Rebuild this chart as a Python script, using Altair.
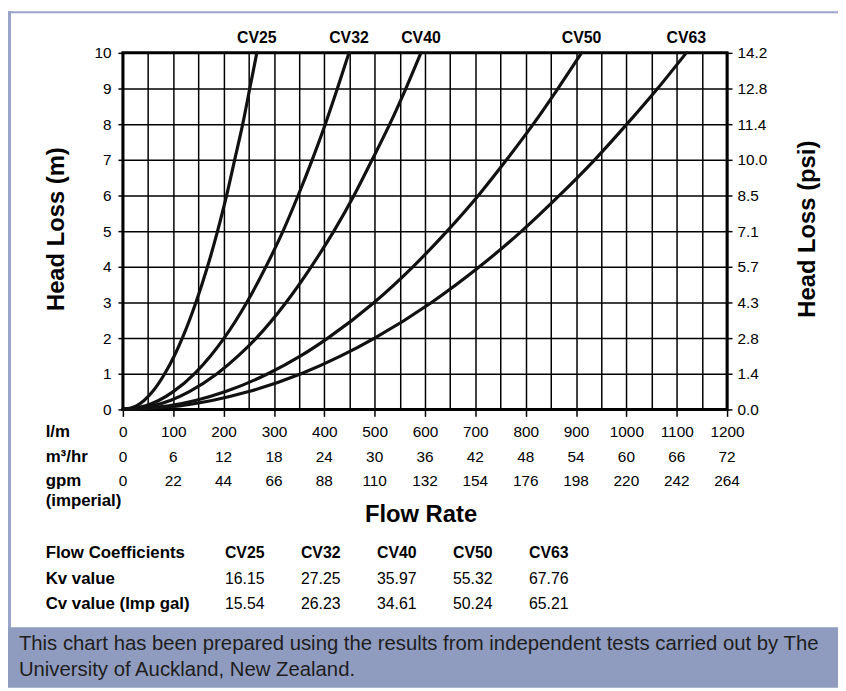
import altair as alt
import pandas as pd

# ---------------- data ----------------
series_names = ["CV25", "CV32", "CV40", "CV50", "CV63"]
head_m = [0, 0.1, 0.25, 0.5, 1, 1.5, 2, 3, 4, 5, 6, 7, 8, 9, 10]
flow_cv25 = [0, 27, 42, 59, 83, 102, 118, 145, 168, 188, 206, 222, 238, 252, 266]
flow_cv32 = [0, 45, 71, 100, 142, 174, 201, 246, 284, 318, 348, 376, 402, 426, 449]
flow_cv40 = [0, 59, 94, 132, 187, 229, 265, 324, 374, 419, 459, 495, 530, 562, 592]
flow_cv50 = [0, 91, 144, 204, 288, 353, 407, 499, 576, 644, 706, 762, 815, 864, 911]
flow_cv63 = [0, 112, 177, 250, 354, 433, 500, 613, 708, 792, 867, 937, 1001, 1062, 1119]

lpm_ticks = [0, 100, 200, 300, 400, 500, 600, 700, 800, 900, 1000, 1100, 1200]
m3hr_labels = [0, 6, 12, 18, 24, 30, 36, 42, 48, 54, 60, 66, 72]
gpm_labels = [0, 22, 44, 66, 88, 110, 132, 154, 176, 198, 220, 242, 264]
grid_lpm = [0, 50, 100, 150, 200, 250, 300, 350, 400, 450, 500, 550, 600,
            650, 700, 750, 800, 850, 900, 950, 1000, 1050, 1100, 1150, 1200]
head_ticks = [0, 1, 2, 3, 4, 5, 6, 7, 8, 9, 10]
psi_labels = ["0.0", "1.4", "2.8", "4.3", "5.7", "7.1", "8.5", "10.0", "11.4", "12.8", "14.2"]

table_rows = ["Flow Coefficients", "Kv value", "Cv value (Imp gal)"]
kv_values = [16.15, 27.25, 35.97, 55.32, 67.76]
cv_values = [15.54, 26.23, 34.61, 50.24, 65.21]

footnote = ["This chart has been prepared using the results from independent tests carried out by The",
            "University of Auckland, New Zealand."]

FONT = "Liberation Sans"
FRAME = "#9aa4c9"
BAND = "#8f9bbf"
TICK_FS = 15.5

# ---------------- tables ----------------
flows = [flow_cv25, flow_cv32, flow_cv40, flow_cv50, flow_cv63]
rows = []
for name, fl in zip(series_names, flows):
    for i, (q, h) in enumerate(zip(fl, head_m)):
        rows.append({"series": name, "Q": q, "H": h, "order": i})
curves_df = pd.DataFrame(rows)
ends_df = pd.DataFrame({"series": series_names, "Q": [f[-1] for f in flows], "H": [head_m[-1]] * 5})
xrows_df = pd.DataFrame({"lpm": lpm_ticks, "m3": m3hr_labels, "gpm": gpm_labels})

vals = []
for name, k, c in zip(series_names, kv_values, cv_values):
    vals.append({"col": name, "row": table_rows[1], "v": f"{k:.2f}"})
    vals.append({"col": name, "row": table_rows[2], "v": f"{c:.2f}"})
vals_df = pd.DataFrame(vals)
head_df = pd.DataFrame({"col": series_names, "row": [table_rows[0]] * 5})
rowlab_df = pd.DataFrame({"row": table_rows})
one = pd.DataFrame({"a": [0]})

xscale = alt.Scale(domain=[0, 1200], nice=False, zero=False)
yscale = alt.Scale(domain=[0, 10], nice=False)

psi_expr = "[" + ",".join(f"'{p}'" for p in psi_labels) + "][datum.value]"

# ---------------- plot layers ----------------
curves = alt.Chart(curves_df).mark_line(
    color="#111111", strokeWidth=3.2, interpolate="monotone", strokeCap="round"
).encode(
    x=alt.X("Q:Q", scale=xscale,
            axis=alt.Axis(orient="top", values=grid_lpm, grid=True, gridColor="black",
                          gridWidth=1.5, gridOpacity=1, labels=False, ticks=False,
                          domain=False, title=None)),
    y=alt.Y("H:Q", scale=yscale,
            axis=alt.Axis(orient="left", values=head_ticks, grid=True, gridColor="black",
                          gridWidth=1.5, gridOpacity=1, tickSize=5, tickWidth=1.5,
                          tickColor="black", labelPadding=7, labelFontSize=TICK_FS,
                          labelColor="black", labelFont=FONT, domain=False, title=None)),
    detail="series:N",
    order="order:Q",
)

axes2 = alt.Chart(curves_df).mark_point(opacity=0).encode(
    x=alt.X("Q:Q", scale=xscale,
            axis=alt.Axis(orient="bottom", values=lpm_ticks, grid=False, tickSize=7,
                          tickWidth=1.5, tickColor="black", labelPadding=8,
                          labelFontSize=TICK_FS, labelColor="black", labelFont=FONT,
                          labelFlush=False, domain=False, title=None, format="d")),
    y=alt.Y("H:Q", scale=yscale,
            axis=alt.Axis(orient="right", values=head_ticks, grid=False, tickSize=5,
                          tickWidth=1.5, tickColor="black", labelPadding=5,
                          labelFontSize=TICK_FS, labelColor="black", labelFont=FONT,
                          labelExpr=psi_expr, domain=False, title=None)),
)

curve_labels = alt.Chart(ends_df).mark_text(
    fontSize=16, fontWeight="bold", font=FONT, dy=-15, baseline="middle", color="black"
).encode(
    x=alt.X("Q:Q", scale=xscale, axis=None),
    y=alt.Y("H:Q", scale=yscale, axis=None),
    text="series:N",
)

m3_row = alt.Chart(xrows_df).mark_text(fontSize=TICK_FS, font=FONT, baseline="middle", color="black").encode(
    x=alt.X("lpm:Q", scale=xscale, axis=None), y=alt.value(408), text="m3:N")
gpm_row = alt.Chart(xrows_df).mark_text(fontSize=TICK_FS, font=FONT, baseline="middle", color="black").encode(
    x=alt.X("lpm:Q", scale=xscale, axis=None), y=alt.value(432), text="gpm:N")

main = alt.layer(curves, axes2, curve_labels, m3_row, gpm_row).resolve_axis(
    x="independent", y="independent")

# ---------------- decorations / text outside plot ----------------
def label(txt, x, y, size=17, weight="bold", align="left", angle=0):
    kw = dict(text=txt, fontSize=size, fontWeight=weight, font=FONT, align=align,
              baseline="middle", color="black")
    if angle:
        kw["angle"] = angle
    return alt.Chart(one).mark_text(**kw).encode(x=alt.value(x), y=alt.value(y))

frame_left = alt.Chart(one).mark_rect(color=FRAME).encode(
    x=alt.value(-116), x2=alt.value(-113), y=alt.value(-42), y2=alt.value(600))
frame_top = alt.Chart(one).mark_rect(color=FRAME).encode(
    x=alt.value(-116), x2=alt.value(722), y=alt.value(-42), y2=alt.value(-40))
band = alt.Chart(one).mark_rect(color=BAND).encode(
    x=alt.value(-116), x2=alt.value(722), y=alt.value(580), y2=alt.value(641))
foot = alt.Chart(one).mark_text(
    text=footnote, fontSize=20.5, font=FONT, align="left", baseline="middle",
    color="#1e1e1e", lineHeight=26
).encode(x=alt.value(-105), y=alt.value(597))

decor = [
    frame_left, frame_top, band, foot,
    label("l/m", -78, 383), label("m³/hr", -78, 408), label("gpm", -78, 432),
    label("(imperial)", -78, 453),
    label("Flow Rate", 301, 467, size=24, align="center"),
    label("Head Loss (m)", -66, 178, size=24, align="center", angle=270),
    label("Head Loss (psi)", 692, 178, size=24, align="center", angle=270),
]

col_scale = alt.Scale(type="point", domain=series_names, range=[123, 430], padding=0)
row_scale = alt.Scale(type="point", domain=table_rows, range=[505, 557], padding=0)

tab_head = alt.Chart(head_df).mark_text(
    fontSize=16, fontWeight="bold", font=FONT, baseline="middle", color="black"
).encode(
    x=alt.X("col:N", scale=col_scale, axis=None),
    y=alt.Y("row:N", scale=row_scale, axis=None),
    text="col:N",
)
tab_vals = alt.Chart(vals_df).mark_text(
    fontSize=16, font=FONT, baseline="middle", color="black"
).encode(
    x=alt.X("col:N", scale=col_scale, axis=None),
    y=alt.Y("row:N", scale=row_scale, axis=None),
    text="v:N",
)
tab_rows = alt.Chart(rowlab_df).mark_text(
    fontSize=17, fontWeight="bold", font=FONT, baseline="middle", align="left", color="black"
).encode(
    x=alt.value(-78),
    y=alt.Y("row:N", scale=row_scale, axis=None),
    text="row:N",
)

table = alt.layer(*decor, tab_head, tab_vals, tab_rows)

chart = alt.layer(table, main).resolve_scale(
    x="independent", y="independent"
).properties(
    width=610, height=360,
    padding={"left": 116, "top": 42, "right": 112, "bottom": 281},
    autosize=alt.AutoSizeParams(type="none"),
    background="white",
).configure_view(
    stroke="black", strokeWidth=3
)

chart.save("out.html", embed_options={"renderer": "svg", "actions": False})
